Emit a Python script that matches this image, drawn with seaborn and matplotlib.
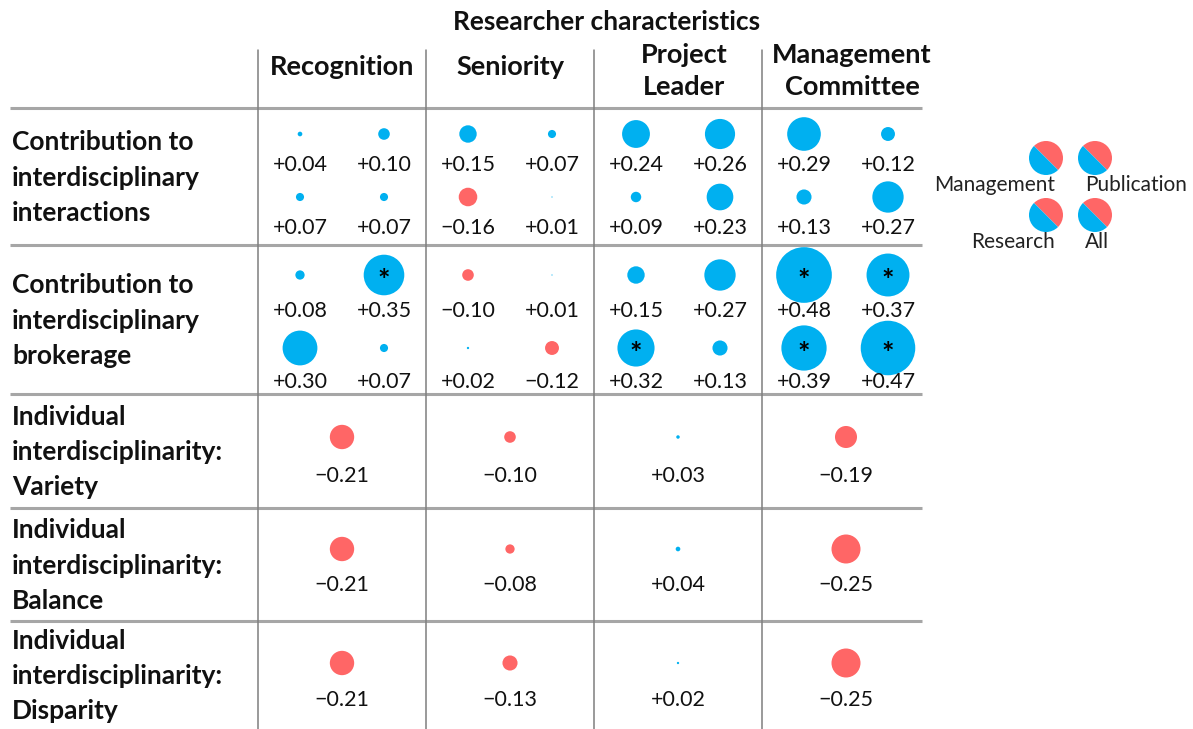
import matplotlib
matplotlib.use('Agg')
import matplotlib.pyplot as plt
from matplotlib.patches import Wedge
import seaborn as sns
import pandas as pd
import numpy as np

sns.set_theme(style='white')
plt.rcParams['font.family'] = ['Lato', 'DejaVu Sans']

BLUE = '#00B0F0'
RED = '#FF6666'

# data
title = 'Researcher characteristics'
col_names = ['Recognition', 'Seniority', 'Project\nLeader', 'Management\nCommittee']
row_names = ['Contribution to\ninterdisciplinary\ninteractions',
             'Contribution to\ninterdisciplinary\nbrokerage',
             'Individual\ninterdisciplinarity:\nVariety',
             'Individual\ninterdisciplinarity:\nBalance',
             'Individual\ninterdisciplinarity:\nDisparity']
roles = ['Management', 'Publication', 'Research', 'All']

# per characteristic: [Management, Publication, Research, All]
interactions = [[0.04, 0.10, 0.07, 0.07],
                [0.15, 0.07, -0.16, 0.01],
                [0.24, 0.26, 0.09, 0.23],
                [0.29, 0.12, 0.13, 0.27]]
interactions_sig = [[0, 0, 0, 0], [0, 0, 0, 0], [0, 0, 0, 0], [0, 0, 0, 0]]
brokerage = [[0.08, 0.35, 0.30, 0.07],
             [-0.10, 0.01, 0.02, -0.12],
             [0.15, 0.27, 0.32, 0.13],
             [0.48, 0.37, 0.39, 0.47]]
brokerage_sig = [[0, 1, 0, 0], [0, 0, 0, 0], [0, 0, 1, 0], [1, 1, 1, 1]]
variety = [-0.21, -0.10, 0.03, -0.19]
balance = [-0.21, -0.08, 0.04, -0.25]
disparity = [-0.21, -0.13, 0.02, -0.25]

# layout (pixels)
W, H = 1193, 729
vlines = [258, 426, 594, 762]
group_w = 168
row_tops = [108, 245, 394, 508, 621]
split_circle_dy = [[26, 89], [30, 103]]
split_text_dy = [[57, 120], [66, 137]]
single_circle_dy = [43, 41, 42]
single_text_dy = [82, 77, 79]
px_per_unit = 116

recs = []
for r, (vals, sig) in enumerate([(interactions, interactions_sig), (brokerage, brokerage_sig)]):
    for c in range(4):
        for k in range(4):
            sub_r, sub_c = divmod(k, 2)
            x = vlines[c] + group_w * (0.25 + 0.5 * sub_c)
            recs.append(dict(x=x, y=row_tops[r] + split_circle_dy[r][sub_r],
                             ty=row_tops[r] + split_text_dy[r][sub_r],
                             v=vals[c][k], sig=sig[c][k]))
for i, vals in enumerate([variety, balance, disparity]):
    r = i + 2
    for c in range(4):
        recs.append(dict(x=vlines[c] + group_w / 2, y=row_tops[r] + single_circle_dy[i],
                         ty=row_tops[r] + single_text_dy[i], v=vals[c], sig=0))
df = pd.DataFrame(recs)
df['sign'] = np.where(df['v'] >= 0, 'pos', 'neg')
df['area'] = df['v'] ** 2

fig = plt.figure(figsize=(W / 100, H / 100), dpi=100)
ax = fig.add_axes([0, 0, 1, 1])
ax.set_xlim(0, W)
ax.set_ylim(H, 0)
ax.axis('off')

# grid lines
for y in row_tops:
    ax.plot([10, 922], [y, y], color='#a6a6a6', lw=2.2, solid_capstyle='butt', zorder=1)
for x in vlines:
    ax.plot([x, x], [50, H], color='#7f7f7f', lw=1.1, zorder=1)

smax = (px_per_unit * 0.72) ** 2
sns.scatterplot(data=df, x='x', y='y', hue='sign', palette={'pos': BLUE, 'neg': RED},
                size='area', sizes=(0, smax), size_norm=(0, 1), linewidth=0,
                legend=False, ax=ax, zorder=3)
ax.set_xlim(0, W)
ax.set_ylim(H, 0)

for _, row in df.iterrows():
    lab = f"{row.v:+.2f}".replace('-', '\u2212')
    ax.text(row.x, row.ty, lab, ha='center', va='center', fontsize=15.5, color='#111111')
    if row.sig:
        ax.text(row.x, row.y + 6, '*', ha='center', va='center', fontsize=21,
                fontweight='bold', color='black', zorder=4)

# headers
ax.text(607, 22, title, ha='center', va='center', fontsize=19, fontweight='bold', color='#111111')
for c, name in enumerate(col_names):
    ax.text(vlines[c] + group_w / 2 + (6 if c >= 2 else 0), 67 if '\n' not in name else 71, name,
            ha='center', va='center', fontsize=19.5, fontweight='bold', linespacing=1.38,
            color='#111111')

row_bottoms = row_tops[1:] + [H]
for r, name in enumerate(row_names):
    yc = (row_tops[r] + row_bottoms[r]) / 2 + 1
    ax.text(12, yc, name, ha='left', va='center', fontsize=19, fontweight='bold',
            linespacing=1.56, color='#111111')

# legend: one split circle per role
leg_centers = [(1046, 158), (1095, 158), (1046, 215), (1095, 215)]
for k, role in enumerate(roles):
    cx, cy = leg_centers[k]
    ax.add_patch(Wedge((cx, cy), 17, -135, 45, color=RED, lw=0, zorder=3))
    ax.add_patch(Wedge((cx, cy), 17, 45, 225, color=BLUE, lw=0, zorder=3))
    if k % 2 == 0:
        ax.text(cx + 9, cy + 27, role, ha='right', va='center', fontsize=15, color='#222222', zorder=4)
    else:
        ax.text(cx - 10, cy + 27, role, ha='left', va='center', fontsize=15, color='#222222', zorder=4)

fig.savefig('out.png', dpi=100, facecolor='white')
